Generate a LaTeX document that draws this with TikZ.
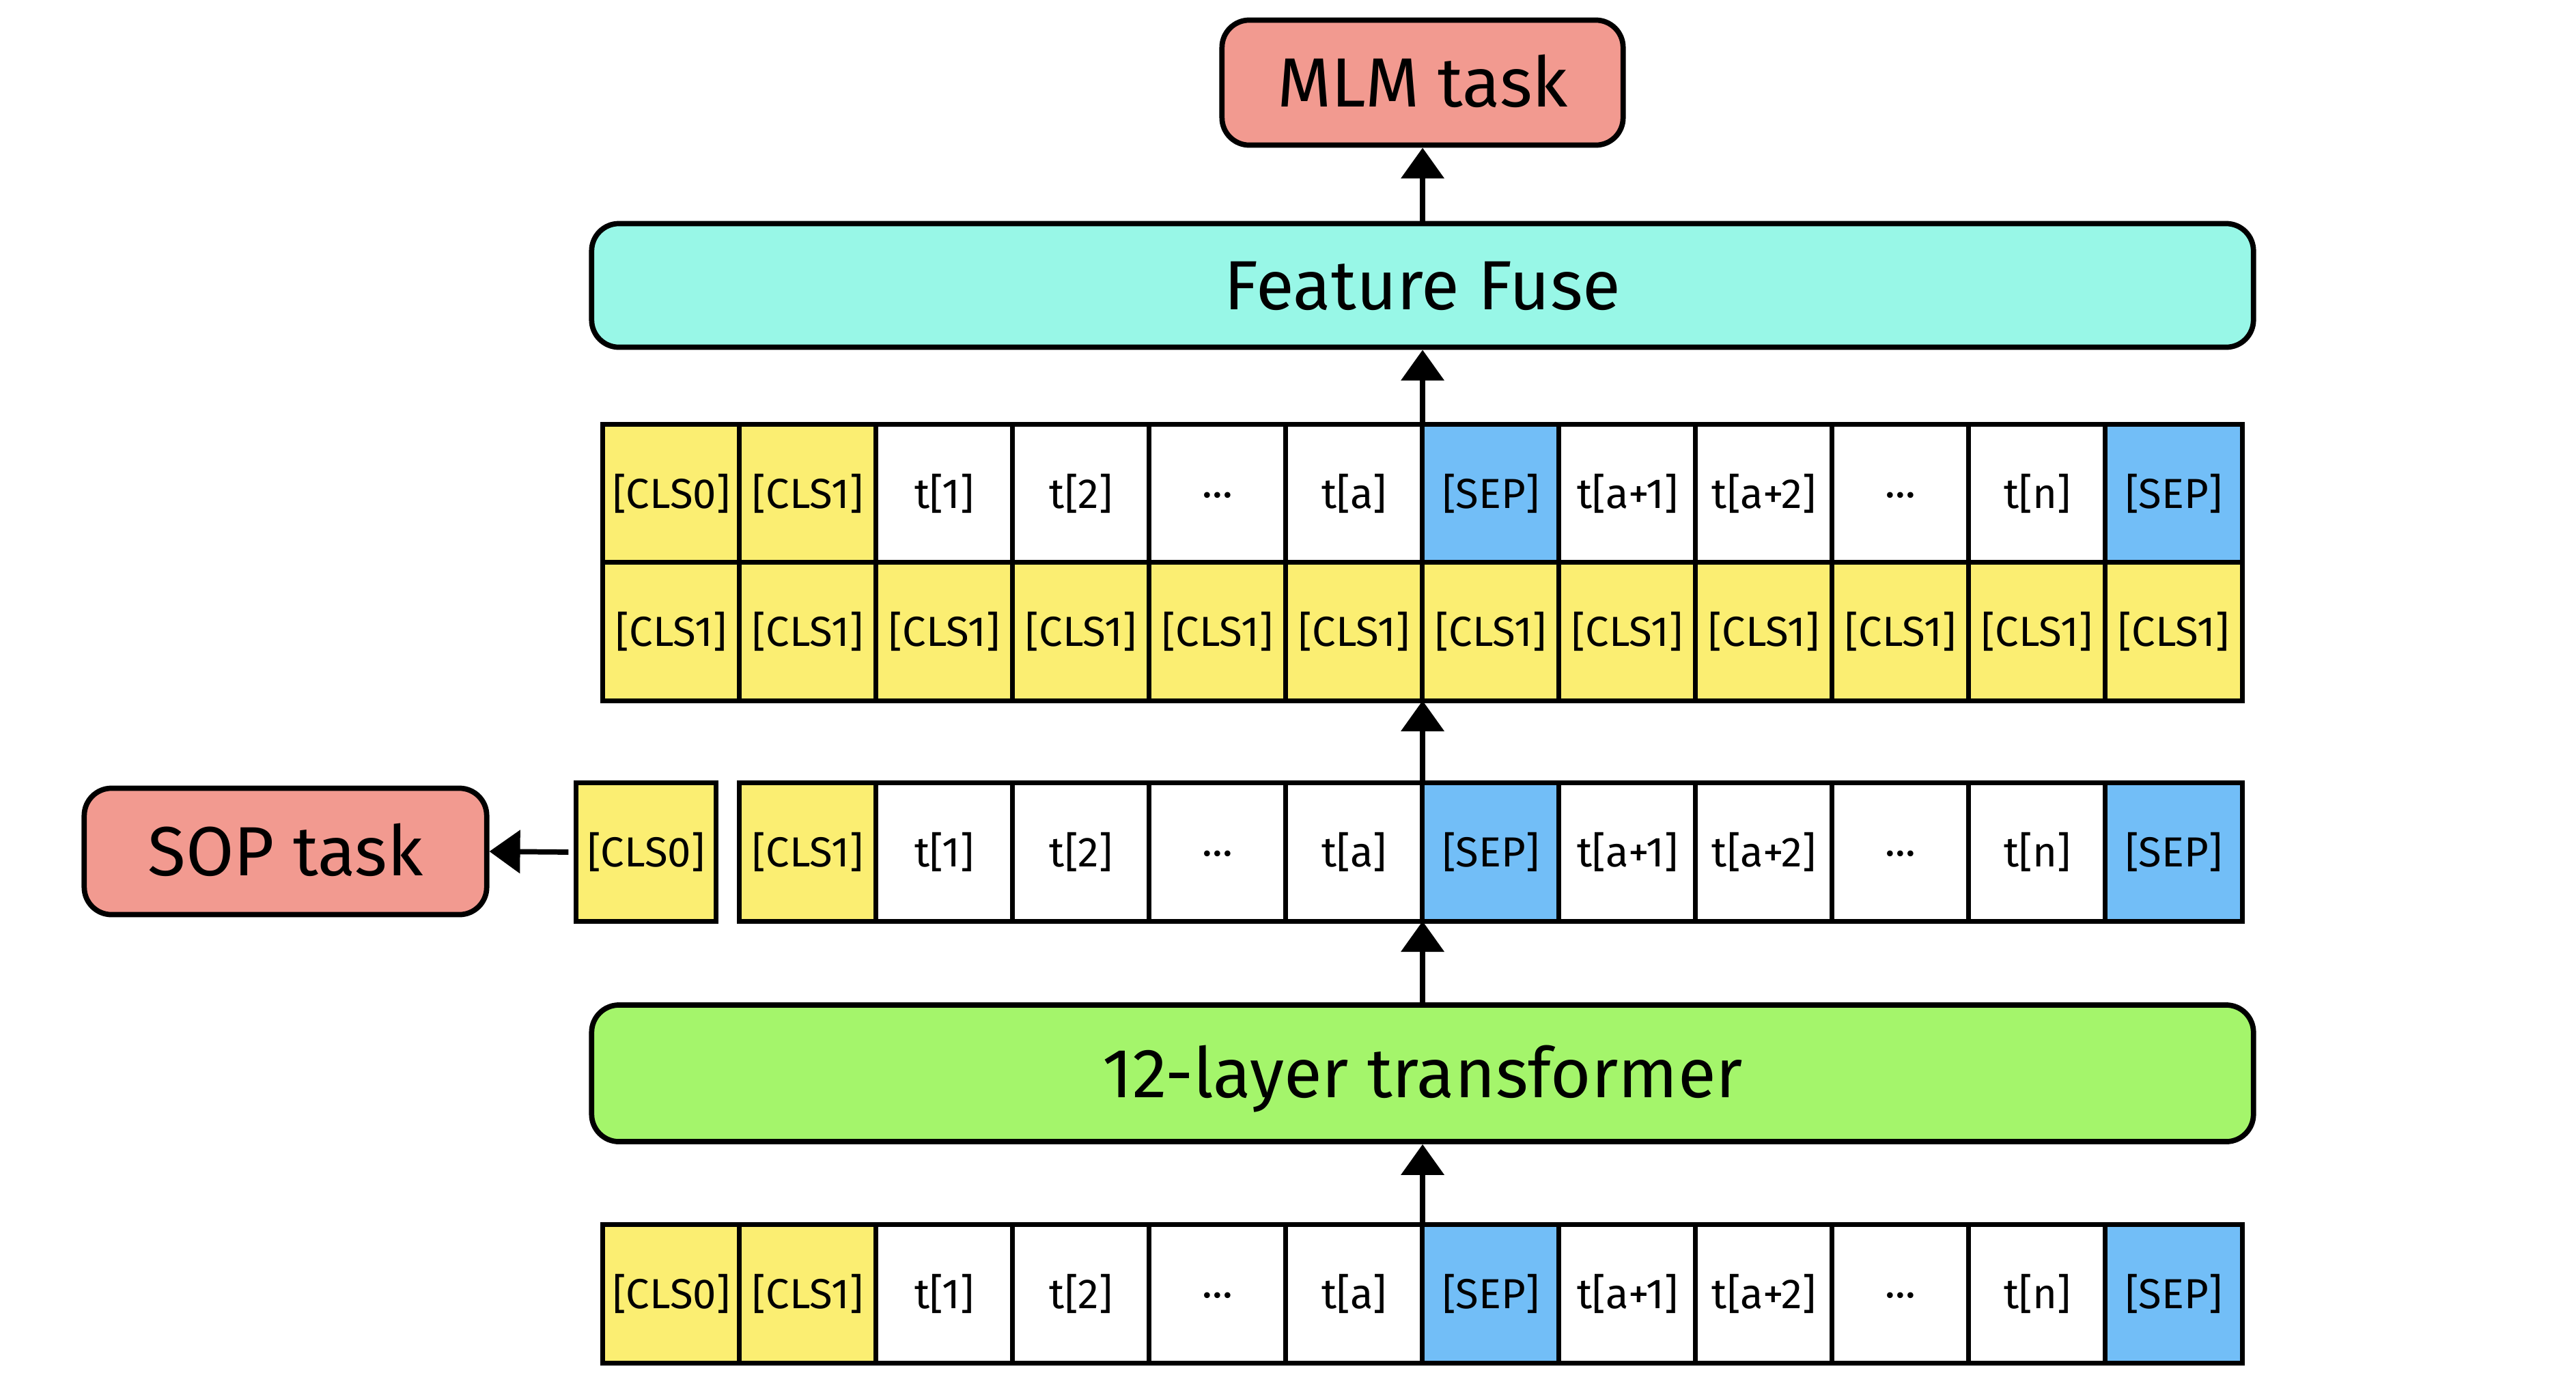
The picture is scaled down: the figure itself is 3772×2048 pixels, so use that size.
\documentclass[tikz,border=0pt]{standalone}
\usepackage{fontspec}
\setmainfont{Fira Sans}
\usetikzlibrary{arrows.meta}
\definecolor{salmon}{HTML}{F29A90}
\definecolor{aqua}{HTML}{98F7E7}
\definecolor{lgreen}{HTML}{A4F56B}
\definecolor{cyel}{HTML}{FBEE72}
\definecolor{cblue}{HTML}{72BEF7}
\begin{document}
\begin{tikzpicture}[x=0.01cm,y=-0.01cm,
  cell/.style={draw=black, line width=2pt, minimum width=2cm, minimum height=2.02cm,
    inner sep=0pt, outer sep=0pt, fill=white, font=\fontsize{17.5}{20}\selectfont,
    text height=12.1pt, text depth=0pt},
  ycell/.style={cell, fill=cyel},
  bcell/.style={cell, fill=cblue},
  wcell/.style={cell, fill=white},
  bigbox/.style={draw=black, line width=2.2pt, rounded corners=0.4cm, inner sep=0pt,
    font=\fontsize{29}{32}\selectfont, text height=20pt, text depth=0pt},
  arr/.style={line width=2.2pt, -{Triangle[length=0.45cm,width=0.62cm]}}
]
\useasboundingbox (0,0) rectangle (3772,2048);

% big boxes
\node[bigbox, fill=salmon, minimum width=5.87cm, minimum height=1.83cm] (mlm) at (2083,121) {MLM task};
\node[bigbox, fill=aqua, minimum width=24.32cm, minimum height=1.81cm] (fuse) at (2083,418) {Feature Fuse};
\node[bigbox, fill=lgreen, minimum width=24.32cm, minimum height=2.0cm] (trans) at (2083,1572) {12-layer transformer};
\node[bigbox, fill=salmon, minimum width=5.89cm, minimum height=1.85cm] (sop) at (418,1247) {SOP task};

% token rows
\foreach \lab/\sty [count=\i] in {{[CLS0]}/ycell,{[CLS1]}/ycell,{t[1]}/wcell,{t[2]}/wcell,{···}/wcell,{t[a]}/wcell,{[SEP]}/bcell,{t[a+1]}/wcell,{t[a+2]}/wcell,{···}/wcell,{t[n]}/wcell,{[SEP]}/bcell}{
  \node[\sty] (r1c\i) at (783+200*\i,723) {\lab};
  \node[\sty] (r0c\i) at (783+200*\i,1895) {\lab};
  \ifnum\i>1
    \node[\sty] (r3c\i) at (783+200*\i,1248) {\lab};
  \fi
}
\foreach \i in {1,...,12}{
  \node[ycell] (r2c\i) at (783+200*\i,925) {[CLS1]};
}
\node[ycell, minimum width=2.05cm] (r3c1) at (946,1248) {[CLS0]};

% arrows
\draw[arr] (r0c6.north east) -- (trans.south -| r0c6.north east);
\draw[arr] (trans.north -| r3c6.south east) -- (r3c6.south east);
\draw[arr] (r3c6.north east) -- (r2c6.south east);
\draw[arr] (r1c6.north east) -- (fuse.south -| r1c6.north east);
\draw[arr] (fuse.north -| r1c6.north east) -- (mlm.south -| r1c6.north east);
\draw[arr] ([xshift=-0.11cm]r3c1.west) -- (sop.east);
\end{tikzpicture}
\end{document}
